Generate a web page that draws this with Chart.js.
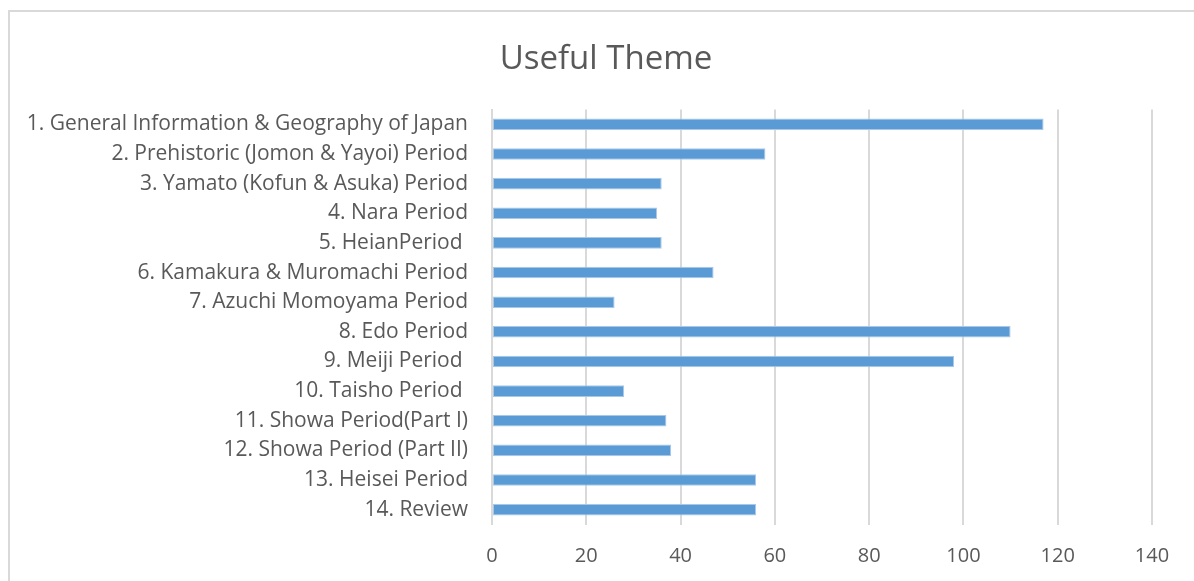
<!DOCTYPE html>
<html>
<head>
<meta charset="utf-8">
<script src="https://cdn.jsdelivr.net/npm/chart.js@4.4.1/dist/chart.umd.min.js"></script>
<style>
  html, body { margin: 0; padding: 0; background: #ffffff; overflow: hidden; }
  #frame { position: absolute; left: 8px; top: 10px; width: 1300px; height: 700px;
           border-left: 2px solid #d9d9d9; border-top: 2px solid #d9d9d9; box-sizing: border-box; }
  #wrap { position: absolute; left: 0; top: 0; width: 1194px; height: 581px; }
</style>
</head>
<body>
<div id="frame"></div>
<div id="wrap"><canvas id="c" width="1194" height="581"></canvas></div>
<script>
const categories = [
  "1. General Information & Geography of Japan",
  "2. Prehistoric (Jomon & Yayoi) Period",
  "3. Yamato (Kofun & Asuka) Period",
  "4. Nara Period",
  "5. HeianPeriod ",
  "6. Kamakura & Muromachi Period",
  "7. Azuchi Momoyama Period",
  "8. Edo Period",
  "9. Meiji Period ",
  "10. Taisho Period ",
  "11. Showa Period(Part I)",
  "12. Showa Period (Part II)",
  "13. Heisei Period",
  "14. Review"
];
const values = [117, 58, 36, 35, 36, 47, 26, 110, 98, 28, 37, 38, 56, 56];
const xMin = 0, xMax = 140, xStep = 20;
const titleText = "Useful Theme";

const textColor = "#595959";
const gridColor = "#d9d9d9";

// shift the title block so it is centred like the original (over x = 60..1152)
const titleShift = {
  id: "titleShift",
  afterLayout(chart) {
    if (chart.titleBlock) {
      chart.titleBlock.left = 60;
      chart.titleBlock.width = chart.titleBlock.right - 60;
    }
  }
};

new Chart(document.getElementById("c"), {
  type: "bar",
  data: {
    labels: categories,
    datasets: [{
      data: values,
      backgroundColor: "#5b9bd5",
      borderColor: "#a9c8e8",
      borderWidth: 1,
      borderSkipped: false,
      categoryPercentage: 1.0,
      barPercentage: 0.39
    }]
  },
  options: {
    indexAxis: "y",
    responsive: false,
    animation: false,
    devicePixelRatio: 1,
    layout: { padding: { left: 0, right: 42, top: 0, bottom: 0 } },
    plugins: {
      legend: { display: false },
      tooltip: { enabled: false },
      title: {
        display: true,
        text: titleText,
        color: textColor,
        font: { family: "'Open Sans', sans-serif", size: 33, weight: "normal" },
        padding: { top: 39.5, bottom: 30.4 }
      }
    },
    scales: {
      x: {
        min: xMin, max: xMax,
        ticks: {
          stepSize: xStep,
          color: textColor,
          font: { family: "'Open Sans', sans-serif", size: 20 },
          padding: 20
        },
        grid: { color: gridColor, lineWidth: 2, drawTicks: false },
        border: { display: false },
        afterFit: (s) => { s.height = 56.5; }
      },
      y: {
        ticks: {
          color: textColor,
          font: { family: "'Open Sans', sans-serif", size: 21 },
          padding: 24,
          autoSkip: false
        },
        grid: { display: false, drawTicks: false },
        border: { display: true, color: gridColor, width: 2 },
        afterFit: (s) => { s.width = 492; }
      }
    }
  },
  plugins: [titleShift]
});
</script>
</body>
</html>
